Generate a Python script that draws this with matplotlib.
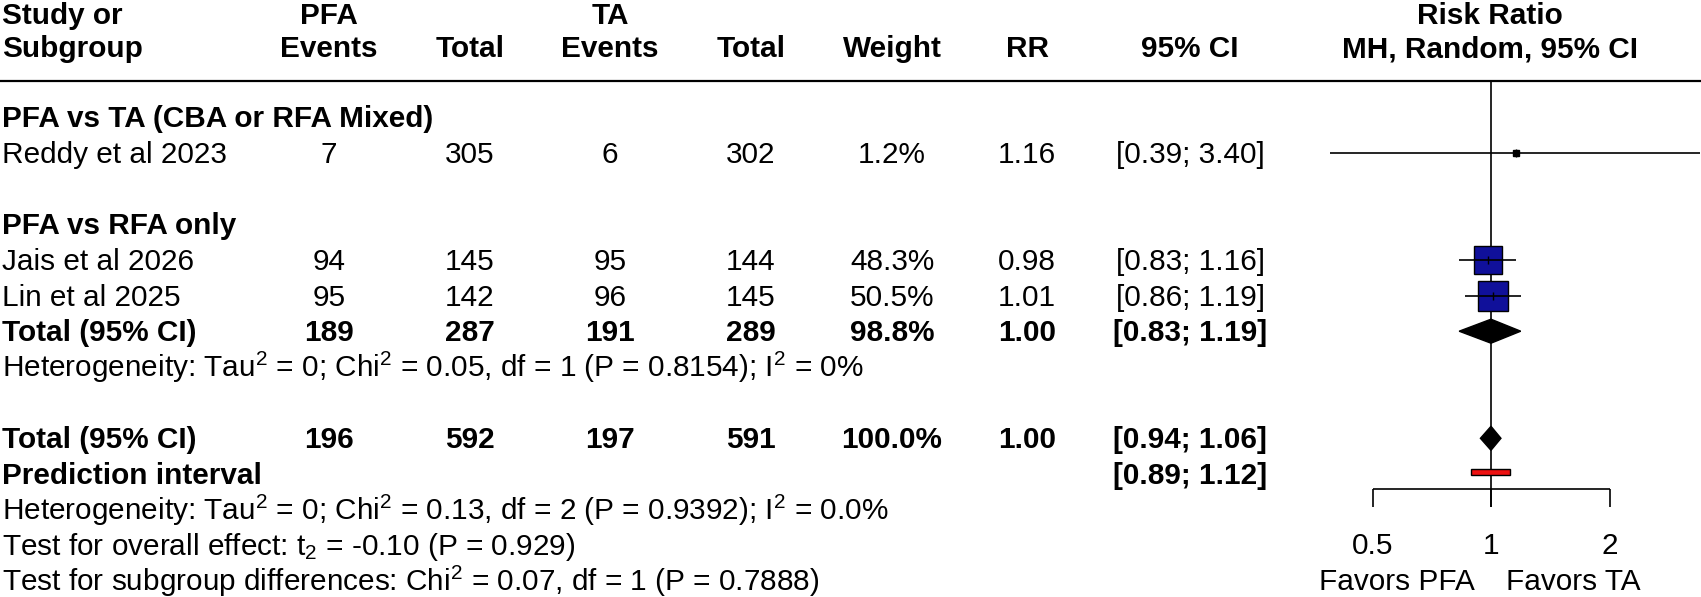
import numpy as np
import matplotlib
matplotlib.use("Agg")
import matplotlib.pyplot as plt
from matplotlib.patches import Polygon, Rectangle

plt.rcParams['font.family'] = ['Liberation Sans', 'DejaVu Sans']
plt.rcParams['mathtext.fontset'] = 'custom'
plt.rcParams['mathtext.rm'] = 'Liberation Sans'
plt.rcParams['mathtext.it'] = 'Liberation Sans:italic'
plt.rcParams['mathtext.bf'] = 'Liberation Sans:bold'

# ---- data ----
subgroups = ['PFA vs TA (CBA or RFA Mixed)', 'PFA vs RFA only']
subgroup_rows = [0, 3]

studies = ['Reddy et al 2023', 'Jais et al 2026', 'Lin et al 2025']
study_rows = [1, 4, 5]
pfa_events = [7, 94, 95]
pfa_total = [305, 145, 142]
ta_events = [6, 95, 96]
ta_total = [302, 144, 145]
weights = [1.2, 48.3, 50.5]
rr = [1.16, 0.98, 1.01]
ci_low = [0.39, 0.83, 0.86]
ci_high = [3.40, 1.16, 1.19]

# subgroup total and overall total
pooled_rows = [6, 9]
pooled_pfa_events = [189, 196]
pooled_pfa_total = [287, 592]
pooled_ta_events = [191, 197]
pooled_ta_total = [289, 591]
pooled_weights = [98.8, 100.0]
pooled_rr = [1.00, 1.00]
pooled_low = [0.83, 0.94]
pooled_high = [1.19, 1.06]

pred_row = 10
pred_low, pred_high = 0.89, 1.12

notes = {
    7: r"Heterogeneity: Tau$^2$ = 0; Chi$^2$ = 0.05, df = 1 (P = 0.8154); I$^2$ = 0%",
    11: r"Heterogeneity: Tau$^2$ = 0; Chi$^2$ = 0.13, df = 2 (P = 0.9392); I$^2$ = 0.0%",
    12: r"Test for overall effect: t$_2$ = -0.10 (P = 0.929)",
    13: r"Test for subgroup differences: Chi$^2$ = 0.07, df = 1 (P = 0.7888)",
}

axis_ticks = [0.5, 1, 2]
axis_labels = ['0.5', '1', '2']

# ---- layout (pixels) ----
W, H = 1701, 597
FS = 21.4
col_x = {'pfa_ev': 329, 'pfa_tot': 470, 'ta_ev': 610, 'ta_tot': 751,
         'weight': 892, 'rr': 1027, 'ci': 1190}
rule_y = 81
axis_y = 489
tick_end = 507


def row_y(i):
    return 117 + 35.7 * i


fig = plt.figure(figsize=(W / 100, H / 100), dpi=100)
tab = fig.add_axes([0, 0, 1, 1])
tab.set_xlim(0, W)
tab.set_ylim(H, 0)
tab.axis('off')


def put(x, y, s, ha='center', bold=False):
    tab.text(x, y + 10, s, ha=ha, va='baseline', fontsize=FS,
             fontweight='bold' if bold else 'normal')


# headers
put(2, 14, 'Study or', ha='left', bold=True)
put(2, 47, 'Subgroup', ha='left', bold=True)
put(col_x['pfa_ev'], 14, 'PFA', bold=True)
put(col_x['pfa_ev'], 47, 'Events', bold=True)
put(col_x['pfa_tot'], 47, 'Total', bold=True)
put(col_x['ta_ev'], 14, 'TA', bold=True)
put(col_x['ta_ev'], 47, 'Events', bold=True)
put(col_x['ta_tot'], 47, 'Total', bold=True)
put(col_x['weight'], 47, 'Weight', bold=True)
put(col_x['rr'], 47, 'RR', bold=True)
put(col_x['ci'], 47, '95% CI', bold=True)
put(1490, 14, 'Risk Ratio', bold=True)
put(1490, 47, 'MH, Random, 95% CI', bold=True)
tab.axhline(rule_y, color='black', lw=1.6)

for name, r in zip(subgroups, subgroup_rows):
    put(2, row_y(r), name, ha='left', bold=True)


def table_row(r, label, pe, pt, te, tt, w, est, lo, hi, bold):
    y = row_y(r)
    put(2, y, label, ha='left', bold=bold)
    put(col_x['pfa_ev'], y, str(pe), bold=bold)
    put(col_x['pfa_tot'], y, str(pt), bold=bold)
    put(col_x['ta_ev'], y, str(te), bold=bold)
    put(col_x['ta_tot'], y, str(tt), bold=bold)
    put(col_x['weight'], y, f"{w:.1f}%", bold=bold)
    put(col_x['rr'], y, f"{est:.2f}", bold=bold)
    put(col_x['ci'], y, f"[{lo:.2f}; {hi:.2f}]", bold=bold)


for i in range(len(studies)):
    table_row(study_rows[i], studies[i], pfa_events[i], pfa_total[i], ta_events[i],
              ta_total[i], weights[i], rr[i], ci_low[i], ci_high[i], False)

for i in range(len(pooled_rows)):
    table_row(pooled_rows[i], 'Total (95% CI)', pooled_pfa_events[i], pooled_pfa_total[i],
              pooled_ta_events[i], pooled_ta_total[i], pooled_weights[i], pooled_rr[i],
              pooled_low[i], pooled_high[i], True)

put(2, row_y(pred_row), 'Prediction interval', ha='left', bold=True)
put(col_x['ci'], row_y(pred_row), f"[{pred_low:.2f}; {pred_high:.2f}]", bold=True)

for r, s in notes.items():
    put(2, row_y(r), s, ha='left')

# ---- forest panel ----
fx0 = 1220
one_px = 1491
px_per_log2 = 118.5
ax = fig.add_axes([fx0 / W, 0, (W - fx0) / W, 1])
ax.set_xscale('log', base=2)
ax.set_xlim(2 ** ((fx0 - one_px) / px_per_log2), 2 ** ((W - one_px) / px_per_log2))
ax.set_ylim(H, 0)
ax.axis('off')

ax.vlines(1, rule_y, tick_end, color='black', lw=1.2, zorder=1)
ax.hlines(axis_y, axis_ticks[0], axis_ticks[-1], color='black', lw=1.2)
ax.vlines(axis_ticks, axis_y, tick_end, color='black', lw=1.2)
for t, lab in zip(axis_ticks, axis_labels):
    ax.text(t, 554, lab, ha='center', va='baseline', fontsize=FS)
ax.annotate('Favors PFA', (1, 590), xytext=(-11.5, 0), textcoords='offset points',
            ha='right', va='baseline', fontsize=FS)
ax.annotate('Favors TA', (1, 590), xytext=(10.8, 0), textcoords='offset points',
            ha='left', va='baseline', fontsize=FS)

for i in range(len(studies)):
    y = row_y(study_rows[i])
    ms = 3.0 * np.sqrt(weights[i])
    # tiny boxes read as solid black dots in the original
    fill = '#10109a' if ms > 8 else 'black'
    ax.plot(rr[i], y, marker='s', ms=max(ms, 4.0), mfc=fill,
            mec='black', mew=1.0, zorder=2, clip_on=False)
    ax.hlines(y, ci_low[i], ci_high[i], color='black', lw=1.2, zorder=3, clip_on=False)
    ax.vlines(rr[i], y - 4, y + 4, color='black', lw=1.0, zorder=3)

for i in range(len(pooled_rows)):
    y = row_y(pooled_rows[i])
    pts = [(pooled_low[i], y), (pooled_rr[i], y - 12), (pooled_high[i], y), (pooled_rr[i], y + 12)]
    ax.add_patch(Polygon(pts, closed=True, fc='black', ec='black', lw=1, zorder=3))

ax.add_patch(Rectangle((pred_low, row_y(pred_row) - 5), pred_high - pred_low, 6,
                       fc='#ee1111', ec='black', lw=1, zorder=3))

fig.savefig('out.png', dpi=100)
